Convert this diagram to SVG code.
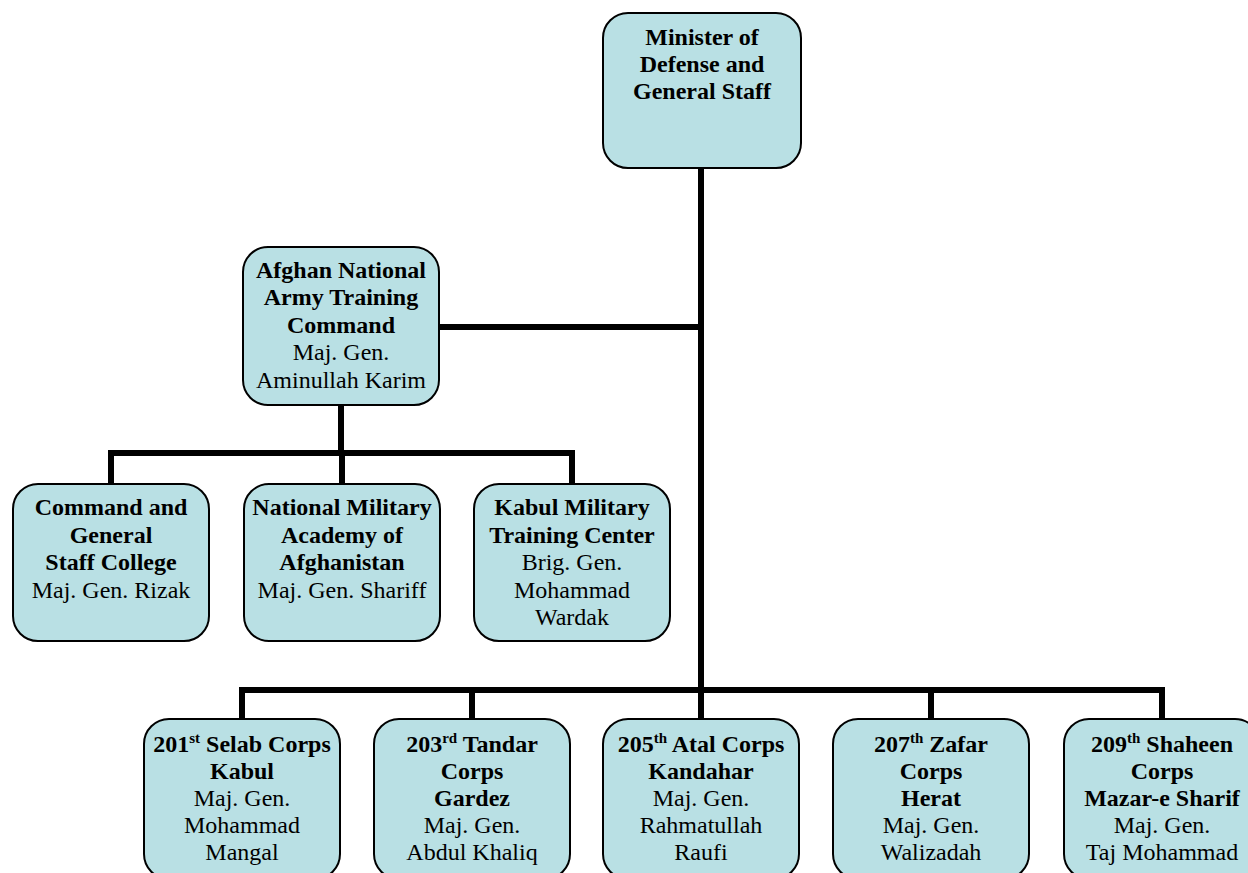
<svg xmlns="http://www.w3.org/2000/svg" width="1248" height="873" viewBox="0 0 1248 873">
<style>
.box{fill:#b9e0e4;stroke:#000;stroke-width:2}
.t{font-family:"Liberation Serif","Times New Roman",serif;font-size:24px;fill:#000;text-anchor:middle}
.b{font-weight:bold}
.sup{font-size:15px}
.conn{fill:none;stroke:#000;stroke-width:6;stroke-linejoin:miter}
</style>
<rect width="1248" height="873" fill="#fff"/>
<g id="connectors">
<path class="conn" d="M701,168 V690"/>
<path class="conn" d="M439,327 H701"/>
<path class="conn" d="M341,405 V453"/>
<path class="conn" d="M111,484 V453 H572 V484"/>
<path class="conn" d="M342,453 V484"/>
<path class="conn" d="M242,719 V690 H1162 V719"/>
<path class="conn" d="M472,690 V719"/>
<path class="conn" d="M701,690 V719"/>
<path class="conn" d="M931,690 V719"/>
</g>
<g id="minister">
<rect class="box" x="603" y="13" width="198" height="155" rx="25"/>
<text class="t b" x="702" y="45">Minister of</text>
<text class="t b" x="702" y="72">Defense and</text>
<text class="t b" x="702" y="99">General Staff</text>
</g>
<g id="training">
<rect class="box" x="243" y="247" width="196" height="158" rx="25"/>
<text class="t b" x="341" y="278">Afghan National</text>
<text class="t b" x="341" y="305">Army Training</text>
<text class="t b" x="341" y="333">Command</text>
<text class="t" x="341" y="360">Maj. Gen.</text>
<text class="t" x="341" y="388">Aminullah Karim</text>
</g>
<g id="cgsc">
<rect class="box" x="13" y="484" width="196" height="157" rx="25"/>
<text class="t b" x="111" y="515">Command and</text>
<text class="t b" x="111" y="543">General</text>
<text class="t b" x="111" y="570">Staff College</text>
<text class="t" x="111" y="598">Maj. Gen. Rizak</text>
</g>
<g id="nmaa">
<rect class="box" x="244" y="484" width="196" height="157" rx="25"/>
<text class="t b" x="342" y="515">National Military</text>
<text class="t b" x="342" y="543">Academy of</text>
<text class="t b" x="342" y="570">Afghanistan</text>
<text class="t" x="342" y="598">Maj. Gen. Shariff</text>
</g>
<g id="kmtc">
<rect class="box" x="474" y="484" width="196" height="157" rx="25"/>
<text class="t b" x="572" y="515">Kabul Military</text>
<text class="t b" x="572" y="543">Training Center</text>
<text class="t" x="572" y="570">Brig. Gen.</text>
<text class="t" x="572" y="598">Mohammad</text>
<text class="t" x="572" y="625">Wardak</text>
</g>
<g id="c201">
<rect class="box" x="144" y="719" width="196" height="160" rx="25"/>
<text class="t b" x="242" y="752">201<tspan class="sup" dy="-9">st</tspan><tspan dy="9"> Selab Corps</tspan></text>
<text class="t b" x="242" y="779">Kabul</text>
<text class="t" x="242" y="806">Maj. Gen.</text>
<text class="t" x="242" y="833">Mohammad</text>
<text class="t" x="242" y="860">Mangal</text>
</g>
<g id="c203">
<rect class="box" x="374" y="719" width="196" height="160" rx="25"/>
<text class="t b" x="472" y="752">203<tspan class="sup" dy="-9">rd</tspan><tspan dy="9"> Tandar</tspan></text>
<text class="t b" x="472" y="779">Corps</text>
<text class="t b" x="472" y="806">Gardez</text>
<text class="t" x="472" y="833">Maj. Gen.</text>
<text class="t" x="472" y="860">Abdul Khaliq</text>
</g>
<g id="c205">
<rect class="box" x="603" y="719" width="196" height="160" rx="25"/>
<text class="t b" x="701" y="752">205<tspan class="sup" dy="-9">th</tspan><tspan dy="9"> Atal Corps</tspan></text>
<text class="t b" x="701" y="779">Kandahar</text>
<text class="t" x="701" y="806">Maj. Gen.</text>
<text class="t" x="701" y="833">Rahmatullah</text>
<text class="t" x="701" y="860">Raufi</text>
</g>
<g id="c207">
<rect class="box" x="833" y="719" width="196" height="160" rx="25"/>
<text class="t b" x="931" y="752">207<tspan class="sup" dy="-9">th</tspan><tspan dy="9"> Zafar</tspan></text>
<text class="t b" x="931" y="779">Corps</text>
<text class="t b" x="931" y="806">Herat</text>
<text class="t" x="931" y="833">Maj. Gen.</text>
<text class="t" x="931" y="860">Walizadah</text>
</g>
<g id="c209">
<rect class="box" x="1064" y="719" width="196" height="160" rx="25"/>
<text class="t b" x="1162" y="752">209<tspan class="sup" dy="-9">th</tspan><tspan dy="9"> Shaheen</tspan></text>
<text class="t b" x="1162" y="779">Corps</text>
<text class="t b" x="1162" y="806">Mazar-e Sharif</text>
<text class="t" x="1162" y="833">Maj. Gen.</text>
<text class="t" x="1162" y="860">Taj Mohammad</text>
</g>
</svg>
